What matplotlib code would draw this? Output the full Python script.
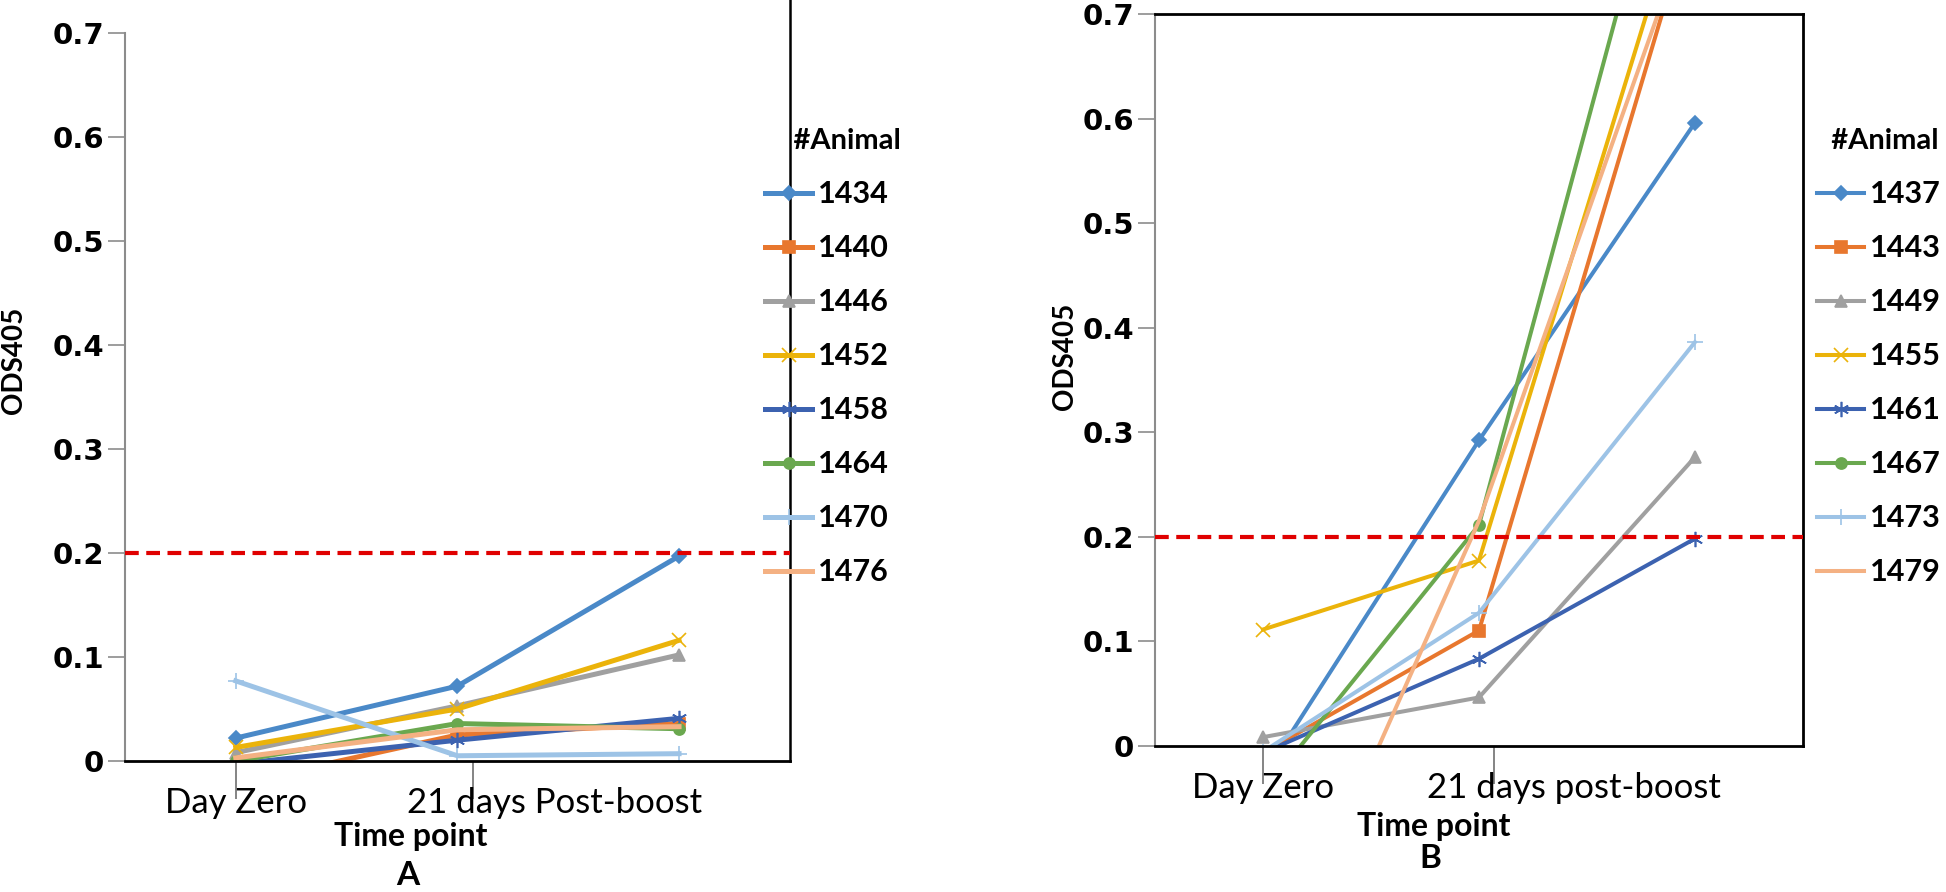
import matplotlib
matplotlib.use('Agg')
import numpy as np
import matplotlib.pyplot as plt
from matplotlib.lines import Line2D
from matplotlib.transforms import blended_transform_factory

plt.rcParams['font.family'] = ['Lato', 'DejaVu Sans']

# x categories (0 = Day Zero, 1 = 21 days, 2 = post-boost)
timepoints = [0, 1, 2]
yticks = [0, 0.1, 0.2, 0.3, 0.4, 0.5, 0.6, 0.7]
ytick_labels = ['0', '0.1', '0.2', '0.3', '0.4', '0.5', '0.6', '0.7']
cutoff = 0.2

# panel A
animals_a = ['1434', '1440', '1446', '1452', '1458', '1464', '1470', '1476']
od_a = [
    [0.022, 0.072, 0.197],
    [-0.022, 0.025, 0.036],
    [0.008, 0.053, 0.102],
    [0.013, 0.050, 0.116],
    [-0.003, 0.020, 0.041],
    [0.000, 0.036, 0.031],
    [0.077, 0.005, 0.007],
    [0.003, 0.030, 0.033],
]
xlabels_a = ['Day Zero', '21 days Post-boost']

# panel B
animals_b = ['1437', '1443', '1449', '1455', '1461', '1467', '1473', '1479']
od_b = [
    [-0.030, 0.292, 0.596],
    [-0.007, 0.110, 0.806],
    [0.008, 0.046, 0.276],
    [0.111, 0.177, 0.851],
    [-0.007, 0.083, 0.198],
    [-0.045, 0.211, 0.978],
    [-0.006, 0.127, 0.386],
    [-0.250, 0.215, 0.800],
]
xlabels_b = ['Day Zero', '21 days post-boost']

colors = ['#4A89C8', '#E8772E', '#A0A0A0', '#EBB30A', '#3C62B0', '#6AA84F', '#9DC3E6', '#F4B183']
markers = ['D', 's', '^', 'x', (6, 2, 0), 'o', '+', None]
msizes = [7, 8, 9, 10, 11, 8, 12, 0]


def draw_panel(fig, ax, animals, values, xlabels, letter, lw, legend_x, ylabel_xy, title_y, letter_y, title_pre):
    for i, name in enumerate(animals):
        ax.plot(timepoints, values[i], color=colors[i], lw=lw, marker=markers[i],
                ms=msizes[i], mew=1.2, label=name, zorder=2)
    ax.axhline(cutoff, color='#E00000', lw=3, dashes=(3.3, 1.8), zorder=3)

    ax.set_xlim(-0.5, 2.5)
    ax.set_ylim(0, 0.7)
    ax.set_yticks(yticks)
    ax.set_yticklabels(ytick_labels, fontfamily='DejaVu Sans', fontweight='bold', fontsize=21)
    ax.tick_params(axis='y', length=12, width=1.2, color='#8C8C8C', pad=3)
    ax.set_xticks([0, 1.07])
    ax.tick_params(axis='x', length=27, width=1.2, color='#707070', labelbottom=False)

    ax.spines['left'].set_color('#8C8C8C')
    ax.spines['left'].set_linewidth(1.5)
    ax.spines['bottom'].set_color('black')
    ax.spines['bottom'].set_linewidth(2)
    if letter == 'B':
        for s in ['top', 'right']:
            ax.spines[s].set_color('black')
            ax.spines[s].set_linewidth(2)
    else:
        ax.spines['top'].set_visible(False)
        ax.spines['right'].set_visible(False)
        ax.add_line(Line2D([1, 1], [0, 1.05], transform=ax.transAxes, color='black',
                           lw=1.8, clip_on=False))

    trans = blended_transform_factory(ax.transData, ax.transAxes)
    ax.text(0, -0.036, xlabels[0], transform=trans, ha='center', va='top', fontsize=25)
    ax.text(1.44, -0.036, xlabels[1], transform=trans, ha='center', va='top', fontsize=25)
    ax.text(0.43, title_y, 'Time point', transform=ax.transAxes, ha='center', va='center',
            fontsize=23, fontweight='bold')
    ax.text(0.425, letter_y, letter, transform=ax.transAxes, ha='center', va='center',
            fontsize=24, fontweight='bold')

    ax.set_ylabel('ODS405', fontsize=20, fontweight='bold')
    ax.yaxis.set_label_coords(*ylabel_xy)

    ax.legend(title=title_pre + '#Animal', loc='upper left', bbox_to_anchor=(legend_x, 0.856),
              bbox_transform=fig.transFigure, frameon=False, borderpad=0, borderaxespad=0,
              prop={'weight': 'bold', 'size': 22},
              title_fontproperties={'weight': 'bold', 'size': 21},
              handlelength=1.55, handletextpad=0.2, labelspacing=0.85, alignment='left')


fig = plt.figure(figsize=(19.46, 8.92), dpi=100)
ax_a = fig.add_axes([0.0642, 0.1469, 0.3417, 0.8161])
ax_b = fig.add_axes([0.5935, 0.1642, 0.3330, 0.8201])

draw_panel(fig, ax_a, animals_a, od_a, xlabels_a, 'A', 3.6, 0.3931, (-0.147, 0.55), -0.104, -0.158, '    ')
draw_panel(fig, ax_b, animals_b, od_b, xlabels_b, 'B', 2.9, 0.9337, (-0.118, 0.532), -0.11, -0.155, '  ')

fig.savefig('out.png', dpi=100)
